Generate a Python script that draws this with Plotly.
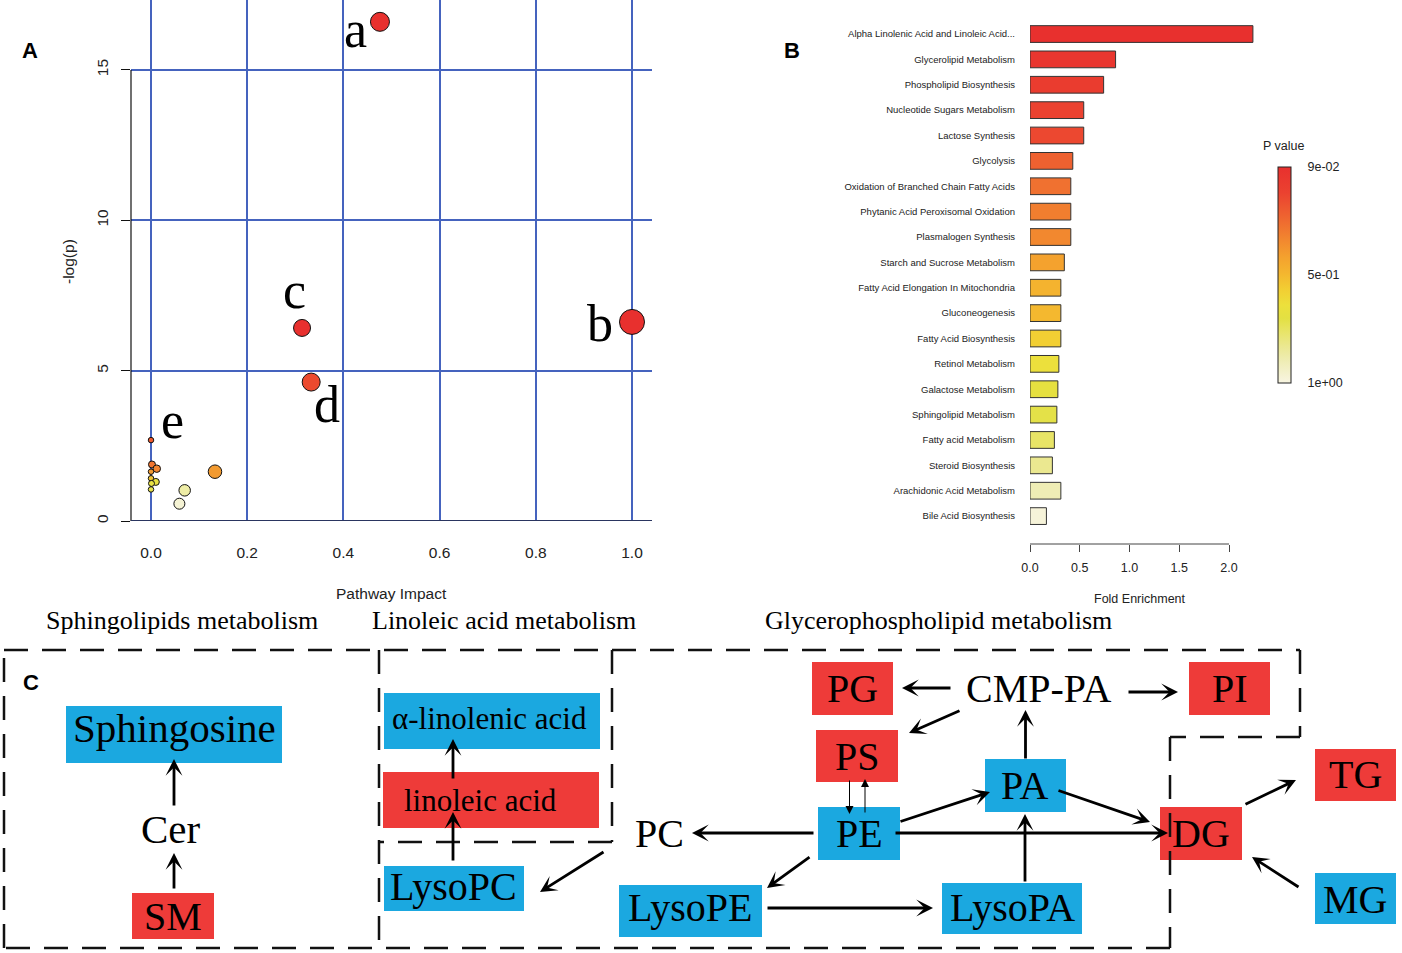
import plotly.graph_objects as go

W, H = 1402, 953

# ---------------- Panel A data: pathway impact vs -log(p) ----------------
pathway_impact = [0.476, 1.0, 0.314, 0.333, 0.0, 0.002, 0.012, 0.0, 0.0, 0.010, 0.001, 0.0, 0.133, 0.070, 0.059]
neg_log_p = [16.6, 6.62, 6.42, 4.62, 2.69, 1.88, 1.74, 1.64, 1.42, 1.30, 1.25, 1.05, 1.64, 1.02, 0.575]
x_ticks_a = [0.0, 0.2, 0.4, 0.6, 0.8, 1.0]
x_tick_labels_a = ["0.0", "0.2", "0.4", "0.6", "0.8", "1.0"]
y_ticks_a = [0, 5, 10, 15]
y_tick_labels_a = ["0", "5", "10", "15"]
point_letters = ["a", "b", "c", "d", "e"]

# ---------------- Panel B data: enrichment ----------------
pathways = [
    "Alpha Linolenic Acid and Linoleic Acid...",
    "Glycerolipid Metabolism",
    "Phospholipid Biosynthesis",
    "Nucleotide Sugars Metabolism",
    "Lactose Synthesis",
    "Glycolysis",
    "Oxidation of Branched Chain Fatty Acids",
    "Phytanic Acid Peroxisomal Oxidation",
    "Plasmalogen Synthesis",
    "Starch and Sucrose Metabolism",
    "Fatty Acid Elongation In Mitochondria",
    "Gluconeogenesis",
    "Fatty Acid Biosynthesis",
    "Retinol Metabolism",
    "Galactose Metabolism",
    "Sphingolipid Metabolism",
    "Fatty acid Metabolism",
    "Steroid Biosynthesis",
    "Arachidonic Acid Metabolism",
    "Bile Acid Biosynthesis",
]
fold_enrichment = [2.24, 0.86, 0.74, 0.54, 0.54, 0.43, 0.41, 0.41, 0.41, 0.345, 0.31,
                   0.31, 0.31, 0.29, 0.28, 0.27, 0.245, 0.225, 0.31, 0.165]
p_values = [0.09, 0.126, 0.163, 0.199, 0.217, 0.29, 0.336, 0.372, 0.399, 0.472, 0.527,
            0.545, 0.609, 0.672, 0.709, 0.736, 0.782, 0.845, 0.909, 0.982]
x_ticks_b = [0.0, 0.5, 1.0, 1.5, 2.0]
x_tick_labels_b = ["0.0", "0.5", "1.0", "1.5", "2.0"]
cbar_ticks = [0.09, 0.545, 1.0]
cbar_tick_labels = ["9e-02", "5e-01", "1e+00"]

# ---------------- Panel C data: pathway diagram ----------------
section_titles = ["Sphingolipids metabolism", "Linoleic acid metabolism", "Glycerophospholipid metabolism"]
node_names = ["Sphingosine", "Cer", "SM", "α-linolenic acid", "linoleic acid", "LysoPC",
              "PG", "CMP-PA", "PI", "PS", "PA", "PE", "PC", "DG", "TG", "MG", "LysoPE", "LysoPA"]
node_regulation = ["down", "none", "up", "down", "up", "down",
                   "up", "none", "up", "up", "down", "down", "none", "up", "up", "down", "down", "down"]
edges = [("Cer", "Sphingosine"), ("SM", "Cer"), ("LysoPC", "linoleic acid"),
         ("linoleic acid", "α-linolenic acid"), ("PC", "LysoPC"), ("CMP-PA", "PG"),
         ("CMP-PA", "PI"), ("CMP-PA", "PS"), ("PA", "CMP-PA"), ("PS", "PE"), ("PE", "PS"),
         ("PE", "PA"), ("PA", "DG"), ("PE", "DG"), ("PE", "PC"), ("PE", "LysoPE"),
         ("LysoPE", "LysoPA"), ("LysoPA", "PA"), ("DG", "TG"), ("MG", "DG")]

# ---------------- styles / layout ----------------
SANS = "Liberation Sans, Arial, sans-serif"
SERIF = "Liberation Serif, Times New Roman, serif"
GRID_BLUE = "#4563BE"
RED = "#EE3B39"
BLUE = "#1BA8E0"

def px(x):
    return x / W

def py(y):
    return 1 - y / H

marker_sizes_a = [19, 25, 17, 18, 5.5, 7, 7.5, 5.5, 5.5, 7, 6, 5.5, 13.5, 11.5, 11]
letter_pos = {"a": (355, 29), "b": (600, 323.5), "c": (294, 290.5), "d": (327, 404), "e": (172, 420.5)}

scale_a = [[0.0, "#F6F4DC"], [0.1156, "#EEEDA6"], [0.122, "#E6E34E"], [0.178, "#E8E040"],
           [0.204, "#F0C434"], [0.253, "#F29A30"], [0.276, "#F28530"], [0.307, "#F07530"],
           [0.487, "#EE5A2E"], [0.916, "#EC4A2E"], [1.0, "#E8302E"]]

# colours for panel B: 0 = p 1 (pale), 1 = p 0.09 (red)
scale_b_pts = [[0, "#E8302E"], [0.12, "#EB4230"], [0.25, "#EF6A30"], [0.34, "#F2882F"],
               [0.42, "#F4A22E"], [0.5, "#F4B82F"], [0.57, "#F2CF33"], [0.64, "#ECE03C"],
               [0.7, "#E3E042"], [0.76, "#E8E466"], [0.83, "#EBE890"], [0.9, "#EFEDB5"],
               [1.0, "#F8F5E2"]]
scale_b = sorted([[round(1 - t, 4), c] for t, c in scale_b_pts])

node_style = {
    "Sphingosine": ((66, 706, 282, 763), (174, 728), 41),
    "Cer": (None, (171, 829), 41),
    "SM": ((132, 893, 214, 939), (173, 916.5), 40),
    "α-linolenic acid": ((384, 693, 600, 749), (490, 718.5), 31),
    "linoleic acid": ((383, 772, 599, 828), (480, 800), 31),
    "LysoPC": ((384, 866, 524, 911), (453, 886.5), 40),
    "PG": ((812, 662, 893, 715), (852, 688.5), 40),
    "CMP-PA": (None, (1038, 688.5), 40),
    "PI": ((1189, 662, 1270, 715), (1230, 688.5), 40),
    "PS": ((816, 730, 898, 782), (857, 756), 40),
    "PA": ((985, 759, 1066, 812), (1025, 785.5), 40),
    "PE": ((818, 807, 900, 860), (859, 833), 40),
    "PC": (None, (659, 833), 40),
    "DG": ((1160, 807, 1242, 860), (1201, 833), 40),
    "TG": ((1315, 749, 1396, 801), (1355, 774), 40),
    "MG": ((1315, 873, 1396, 924), (1355, 899), 40),
    "LysoPE": ((619, 885, 762, 937), (690, 907.6), 40),
    "LysoPA": ((942, 883, 1082, 934), (1012, 907), 40),
}
edge_geom = {
    ("Cer", "Sphingosine"): ((174, 807), (174, 759)),
    ("SM", "Cer"): ((174, 890), (174, 853)),
    ("LysoPC", "linoleic acid"): ((453, 862), (453, 812)),
    ("linoleic acid", "α-linolenic acid"): ((453, 780), (453, 739)),
    ("PC", "LysoPC"): ((605, 851), (540, 892)),
    ("CMP-PA", "PG"): ((952, 688), (902, 688)),
    ("CMP-PA", "PI"): ((1127, 692), (1178, 692)),
    ("CMP-PA", "PS"): ((961, 710), (909, 733)),
    ("PA", "CMP-PA"): ((1025.5, 760), (1025.5, 710)),
    ("PS", "PE"): ((849.5, 779), (849.5, 814)),
    ("PE", "PS"): ((865, 814), (865, 779)),
    ("PE", "PA"): ((899, 822), (990, 792)),
    ("PA", "DG"): ((1057, 790), (1150, 822)),
    ("PE", "DG"): ((894, 833), (1168, 833)),
    ("PE", "PC"): ((815, 833), (692, 833)),
    ("PE", "LysoPE"): ((811, 856), (767, 888)),
    ("LysoPE", "LysoPA"): ((766, 908), (933, 908)),
    ("LysoPA", "PA"): ((1025, 883), (1025, 814)),
    ("DG", "TG"): ((1244, 805), (1296, 780)),
    ("MG", "DG"): ((1300, 888), (1252, 857)),
}
thin_edges = {("PS", "PE"), ("PE", "PS")}
section_pos = [(182, 620.5), (504, 620.5), (938, 620.5)]
dashed_paths = [
    [(4, 650), (1300, 650), (1300, 737), (1170, 737), (1170, 948), (4, 948), (4, 650)],
    [(379, 650), (379, 948)],
    [(612, 650), (612, 842), (379, 842)],
]


def text_ann(text, x, y, size, family, color="#000", angle=0):
    return dict(text=text, x=px(x), y=py(y), xref="paper", yref="paper", xanchor="center",
                yanchor="middle", textangle=angle, showarrow=False,
                font=dict(family=family, size=size, color=color))


fig = go.Figure()

# Panel A scatter
fig.add_trace(go.Scatter(
    x=pathway_impact, y=neg_log_p, mode="markers", xaxis="x", yaxis="y",
    marker=dict(size=marker_sizes_a, color=neg_log_p, colorscale=scale_a, cmin=0.5, cmax=5,
                line=dict(color="#111", width=1), opacity=1),
    cliponaxis=False, showlegend=False, hoverinfo="skip"))

# Panel B bars
fig.add_trace(go.Bar(
    x=fold_enrichment, y=pathways, orientation="h", xaxis="x2", yaxis="y2", width=0.66,
    marker=dict(color=[-p for p in p_values], colorscale=scale_b, cmin=-1.0, cmax=-0.09,
                line=dict(color="#333", width=1), showscale=True,
                colorbar=dict(x=1278 / W, xanchor="left", xpad=0, y=py(275), yanchor="middle",
                              ypad=0, len=216, lenmode="pixels", thickness=13,
                              thicknessmode="pixels", outlinecolor="#222", outlinewidth=1,
                              tickvals=[-c for c in cbar_ticks], ticktext=cbar_tick_labels,
                              ticks="outside", ticklen=14, tickcolor="rgba(0,0,0,0)",
                              tickfont=dict(size=12.5, family=SANS, color="#222"))),
    showlegend=False, hoverinfo="skip"))

shapes = []
annotations = []

# Panel A extras: y spine only over the tick range, darker zero line
shapes.append(dict(type="line", xref="x domain", yref="y", x0=0, x1=0, y0=0, y1=15,
                   line=dict(color="#111", width=1.2)))
shapes.append(dict(type="line", xref="x domain", yref="y", x0=0, x1=1, y0=0, y1=0,
                   line=dict(color="#2A3560", width=2.2)))
for lt in point_letters:
    cx, cy = letter_pos[lt]
    annotations.append(text_ann(lt, cx, cy, 52, SERIF))
annotations.append(text_ann("Pathway Impact", 391, 593, 15.5, SANS, "#222"))
annotations.append(text_ann("-log(p)", 68, 262, 15.5, SANS, "#222", angle=-90))

# Panel B extras
shapes.append(dict(type="line", xref="x2", yref="y2 domain", x0=0, x1=2, y0=0, y1=0,
                   line=dict(color="#444", width=1)))
annotations.append(text_ann("Fold Enrichment", 1140, 599, 12.5, SANS, "#222"))
annotations.append(text_ann("P value", 1284, 146, 12.5, SANS, "#222"))

# Panel labels
for lab, (lx, ly) in zip(["A", "B", "C"], [(30, 50.5), (792, 50.5), (30.5, 682)]):
    annotations.append(text_ann("<b>%s</b>" % lab, lx, ly, 22, SANS))

# Panel C dashed frames
for path in dashed_paths:
    for (xa, ya), (xb, yb) in zip(path[:-1], path[1:]):
        shapes.append(dict(type="line", xref="paper", yref="paper", x0=px(xa), y0=py(ya),
                           x1=px(xb), y1=py(yb), line=dict(color="#111", width=2.5, dash="24px,14px")))

# Section titles
for title, (sx, sy) in zip(section_titles, section_pos):
    annotations.append(text_ann(title, sx, sy, 26, SERIF))

# Nodes
reg_color = {"up": RED, "down": BLUE}
for name, reg in zip(node_names, node_regulation):
    box, (cx, cy), fs = node_style[name]
    if box is not None and reg in reg_color:
        x0, y0, x1, y1 = box
        shapes.append(dict(type="rect", xref="paper", yref="paper", x0=px(x0), x1=px(x1),
                           y0=py(y1), y1=py(y0), fillcolor=reg_color[reg], line=dict(width=0),
                           layer="below"))
    annotations.append(text_ann(name, cx, cy, fs, SERIF))

# Edges
for e in edges:
    (tx, ty), (hx, hy) = edge_geom[e]
    thin = e in thin_edges
    annotations.append(dict(text="", x=px(hx), y=py(hy), xref="paper", yref="paper",
                            ax=tx - hx, ay=ty - hy, axref="pixel", ayref="pixel", showarrow=True,
                            arrowhead=2 if thin else 3, arrowsize=1.6 if thin else 1.0,
                            arrowwidth=1 if thin else 2.8, arrowcolor="#000"))

fig.update_layout(
    width=W, height=H, margin=dict(l=0, r=0, t=0, b=0, pad=0, autoexpand=False),
    paper_bgcolor="white", plot_bgcolor="rgba(0,0,0,0)",
    font=dict(family=SANS, color="#222"),
    showlegend=False,
    xaxis=dict(domain=[px(131), px(652)], range=[-0.0416, 1.0416], anchor="y",
               tickvals=x_ticks_a, ticktext=x_tick_labels_a, showgrid=True, gridcolor=GRID_BLUE,
               gridwidth=1.5, zeroline=False, showline=False, ticks="", ticklabelstandoff=20,
               tickfont=dict(size=15.5, family=SANS, color="#222"), fixedrange=True,
               automargin=False),
    yaxis=dict(domain=[py(521), 1], range=[0, 17.326], anchor="x",
               tickvals=y_ticks_a, ticktext=y_tick_labels_a, tickangle=-90, showgrid=True,
               gridcolor=GRID_BLUE, gridwidth=1.5, zeroline=False, showline=False,
               ticks="outside", ticklen=9, tickcolor="#111", tickwidth=1.2,
               ticklabelstandoff=7, tickfont=dict(size=15.5, family=SANS, color="#222"),
               fixedrange=True, automargin=False),
    xaxis2=dict(domain=[px(1030), px(1255)], range=[0, 2.261], anchor="y2",
                tickvals=x_ticks_b, ticktext=x_tick_labels_b, ticks="outside", ticklen=7,
                tickcolor="#444", tickwidth=1, showgrid=False, zeroline=False, showline=False,
                ticklabelstandoff=5, tickfont=dict(size=12.5, family=SANS, color="#222"),
                fixedrange=True, automargin=False),
    yaxis2=dict(domain=[py(544), py(15)], type="category", categoryorder="array",
                categoryarray=pathways, range=[20.1, -0.75], anchor="x2", ticks="",
                showgrid=False, zeroline=False, showline=False, ticklabelstandoff=14,
                tickfont=dict(size=9.5, family=SANS, color="#222"), fixedrange=True,
                automargin=False),
    shapes=shapes,
    annotations=annotations,
)

post = ("document.documentElement.style.margin='0';document.documentElement.style.padding='0';"
        "document.body.style.margin='0';document.body.style.padding='0';"
        "document.body.style.overflow='hidden';")
fig.write_html("out.html", config={"displayModeBar": False}, post_script=post)
